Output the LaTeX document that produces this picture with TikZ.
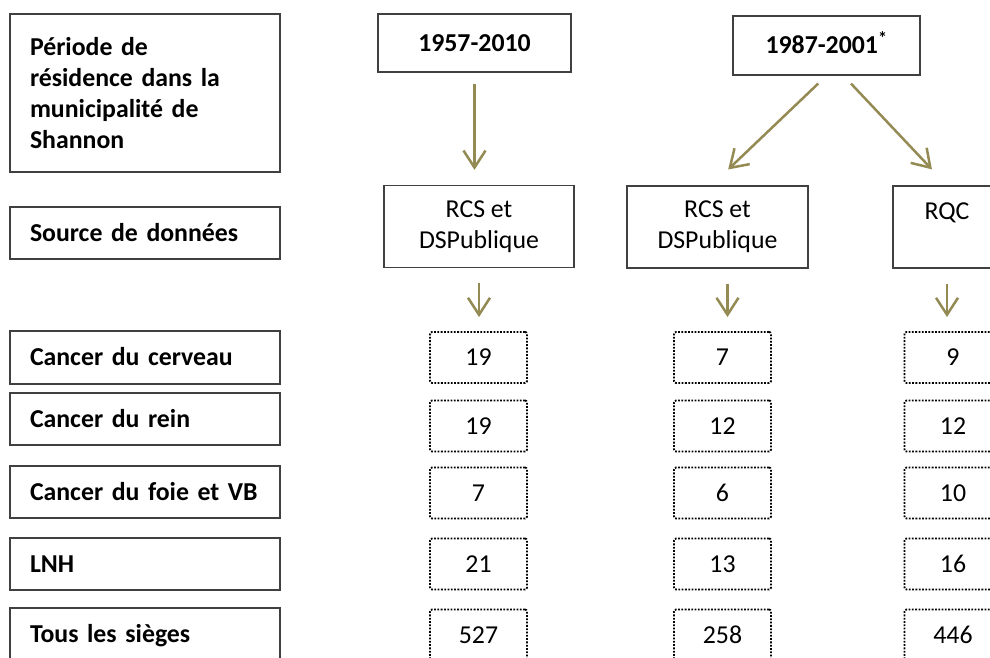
\documentclass[tikz,border=0pt]{standalone}
\usepackage{fontspec}
\setmainfont{Carlito}
\usepackage{tikz}
\usetikzlibrary{arrows.meta}

\definecolor{fleche}{RGB}{148,138,84}
\definecolor{bord}{RGB}{64,64,64}

\begin{document}
\begin{tikzpicture}[x=1pt,y=-1pt,
    font=\fontsize{25.8}{31}\selectfont,
    nodes={draw=bord, line width=1.3pt, inner sep=0pt},
    ligne/.style={text height=18.5pt, text depth=2pt},
    etiquette/.style={minimum width=270pt, text width=230pt, inner xsep=20pt, align=left,
      font=\fontsize{25.8}{31}\selectfont\bfseries},
    periode/.style={ligne, font=\fontsize{25.8}{31}\selectfont\bfseries},
    source/.style={align=center, minimum height=82pt},
    valeur/.style={ligne, draw=black, line width=1.9pt, dash pattern=on 1.8pt off 1.5pt,
      rounded corners=2pt, minimum width=97pt, minimum height=51pt},
    fleche/.style={draw=fleche, line width=2.5pt, -{Straight Barb[length=17pt,width=22pt]}}]

  \useasboundingbox (0,0) rectangle (990,657);
  \clip (0,0) rectangle (990,657);

  % colonne de gauche
  \node[etiquette, minimum height=158pt] (periodes) at (145,93)
    {Période de\\résidence dans la\\municipalité de\\Shannon};
  \node[etiquette, ligne, minimum height=52pt] (sources) at (145,233) {Source de données};
  \node[etiquette, ligne, minimum height=53pt] (cerveau) at (145,357.5) {Cancer du cerveau};
  \node[etiquette, ligne, minimum height=52pt] (rein) at (145,419) {Cancer du rein};
  \node[etiquette, ligne, minimum height=52pt] (foie) at (145,492) {Cancer du foie et VB};
  \node[etiquette, ligne, minimum height=52pt] (lnh) at (145,564) {LNH};
  \node[etiquette, ligne, minimum height=52pt] (tous) at (145,634) {Tous les sièges};

  % periodes
  \node[periode, minimum width=193pt, minimum height=58pt] (p1) at (474.5,43) {1957-2010};
  \node[periode, minimum width=187pt, minimum height=59pt] (p2) at (826.5,45.5) {1987-2001\textsuperscript{*}};

  % sources
  \node[source, minimum width=190pt] (s1) at (479,226.5) {RCS et\\DSPublique};
  \node[source, minimum width=181pt] (s2) at (717.5,227) {RCS et\\DSPublique};
  \node[source, minimum width=108pt] (s3) at (947,227) {RQC\\\mbox{}};

  % nombres de cas
  \foreach \r/\y/\a/\b/\c in {1/357.5/19/7/9, 2/426/19/12/12, 3/493/7/6/10,
      4/564/21/13/16, 5/635/527/258/446} {
    \node[valeur] (a\r) at (478.5,\y) {\a};
    \node[valeur] (b\r) at (722.5,\y) {\b};
    \node[valeur] (c\r) at (953,\y) {\c};
  }

  \draw[fleche, shorten <=11pt, shorten >=15pt] (p1.south) -- (p1.south |- s1.north);
  \draw[fleche, shorten <=11.4pt, shorten >=23pt] (p2.south) -- ([xshift=-6pt]s2.north);
  \draw[fleche, shorten <=11pt, shorten >=22pt] ([xshift=17pt]p2.south) -- (s3.north);

  \foreach \from/\to/\dx in {s1/a1/0, s2/b1/10, s3/c1/0}
    \draw[fleche, shorten <=15pt, shorten >=14pt]
      ([xshift=\dx pt]\from.south) -- ([xshift=\dx pt]\from.south |- \to.north);

\end{tikzpicture}
\end{document}
